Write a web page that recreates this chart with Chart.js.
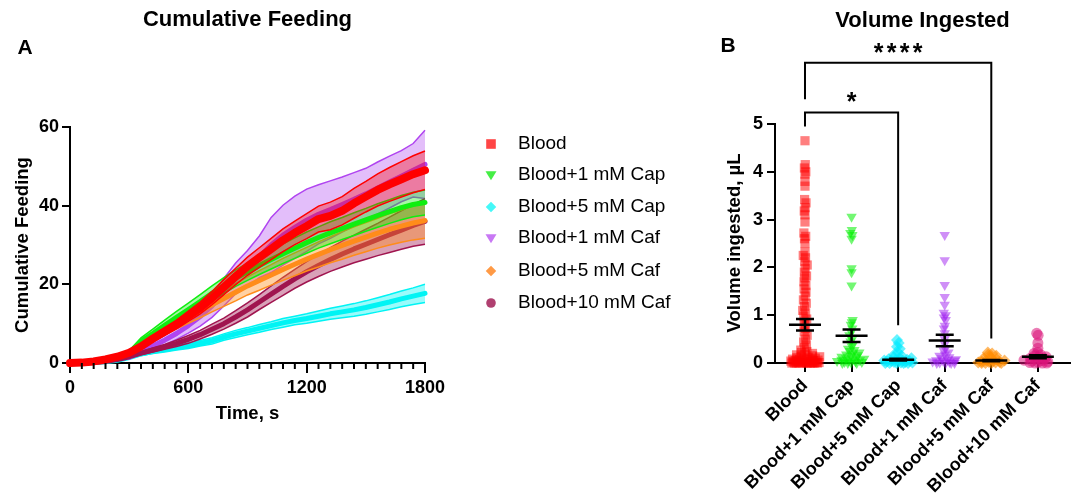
<!DOCTYPE html>
<html>
<head>
<meta charset="utf-8">
<script src="https://cdn.jsdelivr.net/npm/chart.js@4.4.1/dist/chart.umd.min.js"></script>
<style>
  body { margin: 0; background: #fff; }
  #wrap { position: relative; width: 1077px; height: 495px; }
  canvas { position: absolute; top: 0; }
</style>
</head>
<body>
<div id="wrap">
  <canvas id="cumChart" width="700" height="495" style="left:0"></canvas>
  <canvas id="volChart" width="387" height="495" style="left:690px"></canvas>
</div>
<script>
// ---- Panel A: cumulative feeding (mean +/- SEM, every 60 s) ----
const timeS = [0, 60, 120, 180, 240, 300, 360, 420, 480, 540, 600, 660, 720, 780, 840, 900,
  960, 1020, 1080, 1140, 1200, 1260, 1320, 1380, 1440, 1500, 1560, 1620, 1680, 1740, 1800];

const groups = ["Blood", "Blood+1 mM Cap", "Blood+5 mM Cap", "Blood+1 mM Caf", "Blood+5 mM Caf", "Blood+10 mM Caf"];

const bloodMean = [0, 0.1, 0.4, 0.9, 1.6, 2.6, 4.2, 6.2, 8.0, 9.8, 11.9, 14.0, 16.5, 19.3, 22.0, 24.6,
  26.8, 29.0, 31.2, 33.1, 34.8, 36.6, 37.4, 38.7, 40.6, 42.3, 44.0, 45.4, 46.7, 48.0, 49.0];
const bloodSem = [0, 0.05, 0.1, 0.2, 0.3, 0.4, 0.6, 0.8, 1.0, 1.1, 1.3, 1.5, 1.7, 1.9, 2.1, 2.3,
  2.5, 2.7, 2.9, 3.0, 3.2, 3.3, 3.5, 3.6, 3.8, 3.9, 4.1, 4.3, 4.5, 4.7, 4.9];

const cap1Mean = [0, 0.1, 0.3, 0.8, 1.5, 2.6, 5.5, 7.5, 9.6, 11.6, 13.6, 15.6, 17.7, 19.7, 21.6, 23.2,
  24.8, 26.3, 27.8, 29.2, 30.6, 31.9, 33.1, 34.2, 35.3, 36.4, 37.5, 38.5, 39.5, 40.3, 40.8];
const cap1Sem = [0, 0.05, 0.1, 0.2, 0.3, 0.5, 0.9, 1.1, 1.3, 1.5, 1.6, 1.8, 1.9, 2.0, 2.1, 2.2,
  2.3, 2.4, 2.5, 2.6, 2.7, 2.7, 2.8, 2.8, 2.9, 2.9, 3.0, 3.0, 3.1, 3.1, 3.2];

const cap5Mean = [0, 0, 0.1, 0.3, 0.7, 1.4, 2.3, 2.9, 3.4, 3.9, 4.4, 5.0, 5.6, 6.6, 7.4, 8.1,
  8.8, 9.5, 10.2, 10.8, 11.3, 11.9, 12.5, 13.0, 13.5, 14.1, 14.8, 15.5, 16.3, 17.0, 17.7];
const cap5Sem = [0, 0, 0.05, 0.1, 0.2, 0.3, 0.4, 0.5, 0.6, 0.6, 0.7, 0.7, 0.8, 0.8, 0.9, 0.9,
  1.0, 1.0, 1.1, 1.1, 1.2, 1.3, 1.4, 1.5, 1.6, 1.7, 1.8, 1.9, 2.0, 2.1, 2.3];

const caf1Mean = [0, 0, 0.2, 0.6, 1.1, 1.5, 2.8, 4.3, 5.8, 7.5, 9.5, 11.8, 14.5, 18.0, 21.5, 24.0,
  27.0, 30.0, 32.5, 34.5, 36.3, 37.8, 39.0, 40.3, 41.6, 43.0, 44.5, 46.0, 47.5, 49.0, 50.5];
const caf1Sem = [0, 0, 0.1, 0.2, 0.3, 0.4, 0.6, 0.9, 1.2, 1.5, 1.9, 2.4, 2.9, 3.5, 3.9, 4.6,
  5.3, 7.0, 7.6, 7.9, 7.9, 7.5, 7.3, 7.0, 6.8, 6.5, 6.6, 6.6, 6.5, 6.8, 8.7];

const caf5Mean = [0, 0.1, 0.3, 0.8, 1.5, 2.7, 4.5, 6.5, 8.3, 10.0, 11.6, 13.2, 14.8, 16.4, 18.0, 19.6,
  21.0, 22.4, 23.8, 25.1, 26.4, 27.6, 28.8, 29.9, 31.0, 32.0, 33.0, 34.0, 34.8, 35.6, 36.2];
const caf5Sem = [0, 0, 0.1, 0.2, 0.3, 0.5, 0.7, 0.9, 1.1, 1.3, 1.5, 1.7, 1.8, 2.0, 2.2, 2.3,
  2.5, 2.6, 2.8, 2.9, 3.0, 3.2, 3.3, 3.5, 3.6, 3.7, 3.8, 4.0, 4.1, 4.3, 4.5];

const caf10Mean = [0, 0, 0.1, 0.4, 0.9, 1.6, 2.5, 3.3, 4.1, 5.0, 6.0, 7.2, 8.6, 10.0, 11.7, 13.5,
  15.5, 17.5, 19.5, 21.4, 23.2, 24.8, 26.3, 27.7, 29.0, 30.2, 31.4, 32.6, 33.8, 35.0, 36.0];
const caf10Sem = [0, 0, 0.05, 0.1, 0.2, 0.3, 0.4, 0.5, 0.6, 0.8, 1.0, 1.1, 1.3, 1.4, 1.6, 1.8,
  1.9, 2.1, 2.3, 2.4, 2.6, 2.8, 3.0, 3.3, 3.5, 3.8, 4.1, 4.5, 4.9, 5.3, 5.8];

// ---- Panel B: volume ingested per fly (uL) ----
const volBlood = [4.65, 4.15, 4.08, 4.0, 3.95, 3.8, 3.7, 3.42, 3.35, 3.25, 3.18, 3.1, 2.95, 2.72, 2.65,
  2.6, 2.5, 2.32, 2.25, 2.2, 2.12, 2.05, 1.98, 1.9, 1.82, 1.78, 1.7, 1.62, 1.55, 1.48, 1.4, 1.32,
  1.25, 1.18, 1.1, 1.05, 0.98, 0.92, 0.86, 0.8, 0.72, 0.65, 0.58, 0.5, 0.44, 0.38, 0.32, 0.27, 0.24,
  0.22, 0.2, 0.18, 0.17, 0.15, 0.14, 0.13, 0.12, 0.11, 0.1, 0.09, 0.08, 0.08, 0.07, 0.06, 0.06, 0.05,
  0.05, 0.04, 0.04, 0.03, 0.03, 0.02, 0.02, 0.02, 0.01, 0.01, 0.01, 0, 0, 0, 0, 0, 0, 0, 0, 0, 0, 0];
const volCap1 = [3.06, 2.78, 2.72, 2.68, 2.6, 1.98, 1.9, 1.62, 0.9, 0.85, 0.8, 0.72, 0.65, 0.58, 0.5,
  0.45, 0.4, 0.35, 0.3, 0.27, 0.25, 0.22, 0.2, 0.18, 0.16, 0.15, 0.13, 0.12, 0.1, 0.09, 0.08, 0.07,
  0.06, 0.05, 0.04, 0.03, 0.02, 0.02, 0.01, 0, 0, 0];
const volCap5 = [0.48, 0.42, 0.34, 0.3, 0.22, 0.18, 0.15, 0.12, 0.1, 0.09, 0.08, 0.07, 0.06, 0.05,
  0.05, 0.04, 0.04, 0.03, 0.03, 0.02, 0.02, 0.01, 0.01, 0, 0, 0, 0, 0];
const volCaf1 = [2.68, 2.15, 1.63, 1.38, 1.22, 1.05, 1.0, 0.95, 0.9, 0.78, 0.72, 0.62, 0.5, 0.4, 0.3,
  0.26, 0.22, 0.18, 0.15, 0.12, 0.1, 0.08, 0.07, 0.06, 0.05, 0.04, 0.03, 0.02, 0.01, 0, 0, 0, 0];
const volCaf5 = [0.22, 0.2, 0.17, 0.15, 0.12, 0.1, 0.08, 0.06, 0.05, 0.04, 0.03, 0.02, 0.02, 0.01,
  0.01, 0, 0, 0, 0];
const volCaf10 = [0.62, 0.58, 0.42, 0.31, 0.22, 0.2, 0.17, 0.15, 0.13, 0.12, 0.1, 0.09, 0.08, 0.06,
  0.05, 0.04, 0.03, 0.02, 0.01, 0, 0, 0];
const volMean = [0.80, 0.57, 0.07, 0.47, 0.05, 0.13];
const volSem = [0.12, 0.13, 0.02, 0.12, 0.015, 0.03];

const FONT = '"Liberation Sans", Arial, Helvetica, sans-serif';

// line colour, band colour, legend marker colour, scatter colour, marker style
const styles = [
  { line: "#ff0000", band: "rgba(255,0,0,0.35)", legend: "#ff4545", dot: "rgba(255,0,0,0.5)", shape: "rect" },
  { line: "#10ee10", band: "rgba(0,235,0,0.35)", legend: "#45ee45", dot: "rgba(0,240,0,0.55)", shape: "triDown" },
  { line: "#00f4f4", band: "rgba(0,245,245,0.4)", legend: "#45f8f8", dot: "rgba(0,235,255,0.6)", shape: "diamond" },
  { line: "#b044f0", band: "rgba(176,68,240,0.35)", legend: "#c878f4", dot: "rgba(160,32,240,0.5)", shape: "triDown" },
  { line: "#ff8c1a", band: "rgba(255,140,26,0.4)", legend: "#ff9a45", dot: "rgba(255,140,0,0.6)", shape: "diamond" },
  { line: "#a0144f", band: "rgba(160,20,79,0.4)", legend: "#b04070", dot: "rgba(218,20,122,0.55)", shape: "circle" }
];

function drawMarker(ctx, shape, x, y, r, color) {
  ctx.fillStyle = color;
  ctx.beginPath();
  if (shape === "rect") {
    ctx.rect(x - r, y - r, 2 * r, 2 * r);
  } else if (shape === "triDown") {
    ctx.moveTo(x - r * 1.15, y - r * 0.8);
    ctx.lineTo(x + r * 1.15, y - r * 0.8);
    ctx.lineTo(x, y + r * 1.1);
    ctx.closePath();
  } else if (shape === "diamond") {
    ctx.moveTo(x, y - r * 1.1);
    ctx.lineTo(x + r * 1.1, y);
    ctx.lineTo(x, y + r * 1.1);
    ctx.lineTo(x - r * 1.1, y);
    ctx.closePath();
  } else {
    ctx.arc(x, y, r, 0, Math.PI * 2);
  }
  ctx.fill();
}

function text(ctx, str, x, y, size, bold, align, rot) {
  ctx.save();
  ctx.translate(x, y);
  if (rot) ctx.rotate(rot);
  ctx.font = (bold ? "bold " : "") + size + "px " + FONT;
  ctx.fillStyle = "#000";
  ctx.textAlign = align || "center";
  ctx.textBaseline = "middle";
  ctx.fillText(str, 0, 0);
  ctx.restore();
}

function axisStyle(tickLen) {
  return {
    grid: { drawOnChartArea: false, drawTicks: true, tickLength: tickLen, color: "#000", lineWidth: 2 },
    border: { display: true, color: "#000", width: 2 },
    ticks: { color: "#000", font: { family: FONT, size: 18, weight: "bold" }, padding: 3 }
  };
}

// ---- Panel A chart ----
const cumSeries = [
  [bloodMean, bloodSem], [cap1Mean, cap1Sem], [cap5Mean, cap5Sem],
  [caf1Mean, caf1Sem], [caf5Mean, caf5Sem], [caf10Mean, caf10Sem]
];
// draw rank: smaller rank is drawn on top
const rank = [0, 1, 5, 4, 2, 3];

const cumDatasets = [];
cumSeries.forEach(([m, s], i) => {
  const st = styles[i];
  const pts = (arr) => timeS.map((t, k) => ({ x: t, y: arr[k] }));
  const base = rank[i] * 10;
  cumDatasets.push({
    data: pts(m.map((v, k) => v + s[k])), borderColor: st.line, borderWidth: 1.5,
    pointRadius: 0, fill: false, order: base + 1, clip: false
  });
  cumDatasets.push({
    data: pts(m.map((v, k) => Math.max(0, v - s[k]))), borderColor: st.line, borderWidth: 1.5,
    backgroundColor: st.band, pointRadius: 0, fill: "-1", order: base + 1, clip: false
  });
  cumDatasets.push({
    data: pts(m), borderColor: st.line, borderWidth: i === 0 ? 8 : 5, pointRadius: 0,
    fill: false, order: base, clip: false, borderCapStyle: "round", borderJoinStyle: "round"
  });
});

const cumDeco = {
  id: "cumDeco",
  afterDraw(chart) {
    const { ctx, chartArea: a, scales: { x } } = chart;
    ctx.save();
    ctx.strokeStyle = "#000";
    ctx.lineWidth = 2;
    for (let t = 60; t < 1800; t += 60) {
      if (t % 600 === 0) continue;
      const px = x.getPixelForValue(t);
      ctx.beginPath();
      ctx.moveTo(px, a.bottom);
      ctx.lineTo(px, a.bottom + 6);
      ctx.stroke();
    }
    ctx.restore();
    const cx = (a.left + a.right) / 2;
    text(ctx, "Cumulative Feeding", cx, 20, 22, true);
    text(ctx, "A", 25, 48, 21, true);
    text(ctx, "Time, s", cx, 414, 18.5, true);
    text(ctx, "Cumulative Feeding", 23, (a.top + a.bottom) / 2, 18.5, true, "center", -Math.PI / 2);
    // legend
    const rows = [144, 175, 207, 238, 271, 303];
    groups.forEach((g, i) => {
      drawMarker(ctx, styles[i].shape, 491, rows[i], 4.8, styles[i].legend);
      text(ctx, g, 518, rows[i], 19, false, "left");
    });
  }
};

const ax = axisStyle(10);
const ay = axisStyle(8);
new Chart(document.getElementById("cumChart"), {
  type: "line",
  data: { datasets: cumDatasets },
  options: {
    responsive: false,
    animation: false,
    layout: { padding: { left: 0, top: 127, right: 275, bottom: 0 } },
    plugins: { legend: { display: false }, tooltip: { enabled: false } },
    elements: { line: { tension: 0 } },
    scales: {
      x: {
        type: "linear", min: 0, max: 1800, ...ax,
        ticks: { ...ax.ticks, stepSize: 600, padding: 4, maxRotation: 0, callback: (v) => String(v) },
        afterFit: (s) => { s.height = 132; }
      },
      y: {
        type: "linear", min: 0, max: 60, ...ay,
        ticks: { ...ay.ticks, stepSize: 20, callback: (v) => String(v) },
        afterFit: (s) => { s.width = 70; }
      }
    }
  },
  plugins: [cumDeco]
});

// ---- Panel B chart ----
const volSeries = [volBlood, volCap1, volCap5, volCaf1, volCaf5, volCaf10];

// spread points sideways where values pile up (beeswarm-like)
function jitter(vals, j) {
  const v = vals[j];
  let n = 0;
  vals.forEach((u) => { if (Math.abs(u - v) < 0.08) n++; });
  const half = Math.min(0.32, 0.025 * (n - 1));
  const f = (j * 0.618034) % 1;
  return (f - 0.5) * 2 * half;
}

const pointCfg = [
  { style: "rect", rot: 0, r: 6.5 },
  { style: "triangle", rot: 180, r: 6 },
  { style: "rectRot", rot: 0, r: 6 },
  { style: "triangle", rot: 180, r: 6 },
  { style: "rectRot", rot: 0, r: 6 },
  { style: "circle", rot: 0, r: 5.5 }
];

const volDatasets = volSeries.map((vals, i) => ({
  data: vals.map((v, j) => ({ x: i + jitter(vals, j), y: v })),
  pointStyle: pointCfg[i].style,
  pointRotation: pointCfg[i].rot,
  pointRadius: pointCfg[i].r,
  backgroundColor: styles[i].dot,
  borderWidth: 0,
  clip: false
}));

const volDeco = {
  id: "volDeco",
  afterDatasetsDraw(chart) {
    const { ctx, scales: { x, y } } = chart;
    ctx.save();
    ctx.strokeStyle = "#000";
    ctx.lineWidth = 2.5;
    volMean.forEach((m, i) => {
      const px = x.getPixelForValue(i);
      const pm = y.getPixelForValue(m);
      const pu = y.getPixelForValue(m + volSem[i]);
      const pl = y.getPixelForValue(m - volSem[i]);
      ctx.beginPath();
      ctx.moveTo(px - 16, pm); ctx.lineTo(px + 16, pm);
      ctx.moveTo(px, pu); ctx.lineTo(px, pl);
      ctx.moveTo(px - 9, pu); ctx.lineTo(px + 9, pu);
      ctx.moveTo(px - 9, pl); ctx.lineTo(px + 9, pl);
      ctx.stroke();
    });
    // significance brackets
    const brackets = [
      { a: 0, b: 2, top: 5.24, left: 4.95, right: 0.79, stars: 1, starY: 97 },
      { a: 0, b: 4, top: 6.28, left: 5.52, right: 0.51, stars: 4, starY: 48 }
    ];
    ctx.lineWidth = 2;
    brackets.forEach((br) => {
      const xa = x.getPixelForValue(br.a), xb = x.getPixelForValue(br.b);
      const yt = y.getPixelForValue(br.top);
      ctx.beginPath();
      ctx.moveTo(xa, y.getPixelForValue(br.left));
      ctx.lineTo(xa, yt);
      ctx.lineTo(xb, yt);
      ctx.lineTo(xb, y.getPixelForValue(br.right));
      ctx.stroke();
      const cx = (xa + xb) / 2;
      for (let k = 0; k < br.stars; k++) {
        const sx = cx + (k - (br.stars - 1) / 2) * 13;
        ctx.font = "bold 25px " + FONT;
        ctx.fillStyle = "#000";
        ctx.textAlign = "center";
        ctx.textBaseline = "alphabetic";
        ctx.fillText("*", sx, br.starY + 13);
      }
    });
    ctx.restore();
  },
  afterDraw(chart) {
    const { ctx, chartArea: a } = chart;
    text(ctx, "Volume Ingested", (a.left + a.right) / 2, 21, 22, true);
    text(ctx, "B", 38, 46.5, 21, true);
    text(ctx, "Volume ingested, \u00b5L", 45, 243, 18.5, true, "center", -Math.PI / 2);
  }
};

const bx = axisStyle(9);
const by = axisStyle(8);
new Chart(document.getElementById("volChart"), {
  type: "scatter",
  data: { datasets: volDatasets },
  options: {
    responsive: false,
    animation: false,
    layout: { padding: { left: 0, top: 124, right: 7, bottom: 0 } },
    plugins: { legend: { display: false }, tooltip: { enabled: false } },
    scales: {
      x: {
        type: "linear", min: -0.644, max: 5.69, ...bx,
        afterBuildTicks: (s) => { s.ticks = groups.map((g, i) => ({ value: i })); },
        ticks: {
          ...bx.ticks, autoSkip: false, minRotation: 45, maxRotation: 45, padding: 3,
          callback: (v) => groups[v]
        },
        afterFit: (s) => { s.height = 132; }
      },
      y: {
        type: "linear", min: 0, max: 5, ...by,
        ticks: { ...by.ticks, stepSize: 1, padding: 4 },
        afterFit: (s) => { s.width = 85; }
      }
    }
  },
  plugins: [volDeco]
});
</script>
</body>
</html>
